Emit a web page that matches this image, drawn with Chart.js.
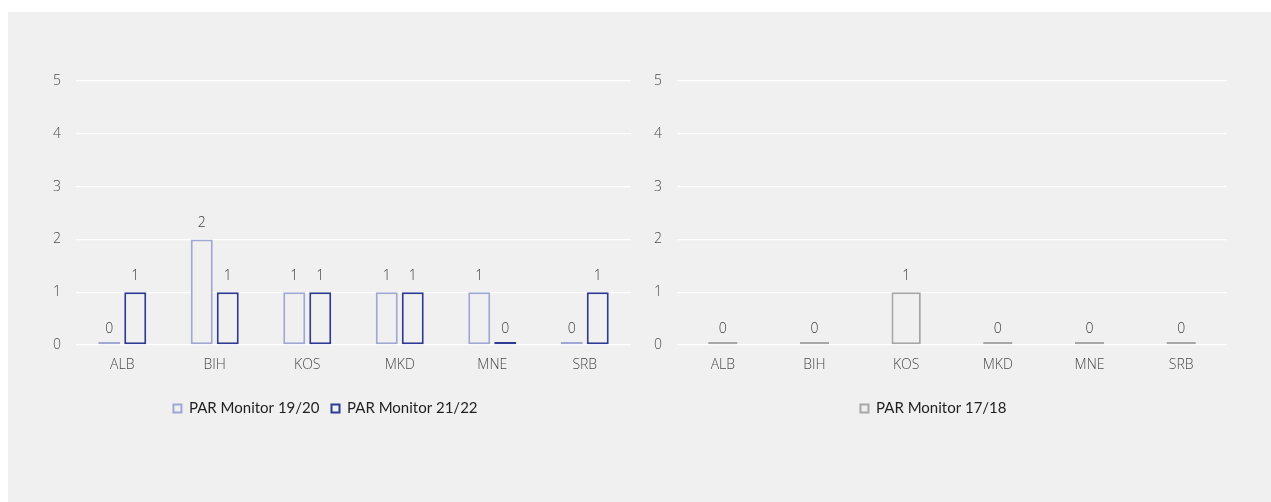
<!DOCTYPE html>
<html>
<head>
<meta charset="utf-8">
<script src="https://cdn.jsdelivr.net/npm/chart.js@4.4.1/dist/chart.umd.min.js"></script>
<style>
  body { margin: 0; background: #ffffff; width: 1271px; height: 502px; overflow: hidden; position: relative; }
  #panel { position: absolute; left: 8px; top: 12px; width: 1263px; height: 490px; background: #f0f0f0; }
  .box { position: absolute; top: 0; width: 620px; height: 414px; }
  #leftBox { left: 12px; }
  #rightBox { left: 632px; }
</style>
</head>
<body>
<div id="panel">
  <div class="box" id="leftBox"><canvas id="leftChart"></canvas></div>
  <div class="box" id="rightBox"><canvas id="rightChart"></canvas></div>
</div>
<script>
// data
const categories = ['ALB', 'BIH', 'KOS', 'MKD', 'MNE', 'SRB'];
const par1920 = [0, 2, 1, 1, 1, 0];
const par2122 = [1, 1, 1, 1, 0, 1];
const par1718 = [0, 0, 1, 0, 0, 0];
const yMin = 0;
const yMax = 5;
const yStep = 1;

const bgColor = '#f0f0f0';
const tickFont = { family: "'Open Sans', 'Noto Sans', sans-serif", size: 14, weight: '300' };

// draws the value over each bar
const valueLabels = {
  id: 'valueLabels',
  afterDatasetsDraw(chart) {
    const ctx = chart.ctx;
    ctx.save();
    ctx.font = "300 14px 'Open Sans', 'Noto Sans', sans-serif";
    ctx.fillStyle = '#3a3a3a';
    ctx.textAlign = 'center';
    ctx.textBaseline = 'middle';
    chart.data.datasets.forEach((ds, i) => {
      chart.getDatasetMeta(i).data.forEach((bar, j) => {
        const top = chart.scales.y.getPixelForValue(ds.data[j]);
        ctx.fillText(String(ds.data[j]), bar.x, top - 16);
      });
    });
    ctx.restore();
  }
};

function makeOptions(yWidth, padRight, catPct, barPct) {
  return {
    responsive: true,
    maintainAspectRatio: false,
    animation: false,
    layout: { padding: { top: 69, right: padRight, bottom: 0, left: 0 } },
    datasets: { bar: { categoryPercentage: catPct, barPercentage: barPct } },
    scales: {
      x: {
        grid: { display: false },
        border: { display: false },
        ticks: { color: '#4a4a4a', font: tickFont, padding: 4 },
        afterFit(scale) { scale.height = 44; }
      },
      y: {
        min: yMin,
        max: yMax,
        ticks: { stepSize: yStep, color: '#4a4a4a', font: tickFont, padding: 15 },
        grid: { color: '#ffffff', lineWidth: 1.3, drawTicks: false },
        border: { display: false },
        afterFit(scale) { scale.width = yWidth; }
      }
    },
    plugins: {
      legend: {
        position: 'bottom',
        labels: {
          boxWidth: 8,
          boxHeight: 8,
          color: '#1f1f1f',
          padding: 12,
          font: { family: "Lato, 'Noto Sans', sans-serif", size: 15 }
        }
      },
      tooltip: { enabled: false }
    }
  };
}

new Chart('leftChart', {
  type: 'bar',
  data: {
    labels: categories,
    datasets: [{
      label: 'PAR Monitor 19/20',
      data: par1920,
      backgroundColor: bgColor,
      borderColor: '#a0a7d3',
      borderWidth: 2,
      borderSkipped: false,
      minBarLength: 3
    }, {
      label: 'PAR Monitor 21/22',
      data: par2122,
      backgroundColor: bgColor,
      borderColor: '#2f3b92',
      borderWidth: 2,
      borderSkipped: false,
      minBarLength: 3
    }]
  },
  options: makeOptions(56, 9, 0.562, 0.846),
  plugins: [valueLabels]
});

new Chart('rightChart', {
  type: 'bar',
  data: {
    labels: categories,
    datasets: [{
      label: 'PAR Monitor 17/18',
      data: par1718,
      backgroundColor: bgColor,
      borderColor: '#a6a6a6',
      borderWidth: 2,
      borderSkipped: false,
      minBarLength: 3
    }]
  },
  options: makeOptions(37, 33, 0.64, 0.5),
  plugins: [valueLabels]
});
</script>
</body>
</html>
